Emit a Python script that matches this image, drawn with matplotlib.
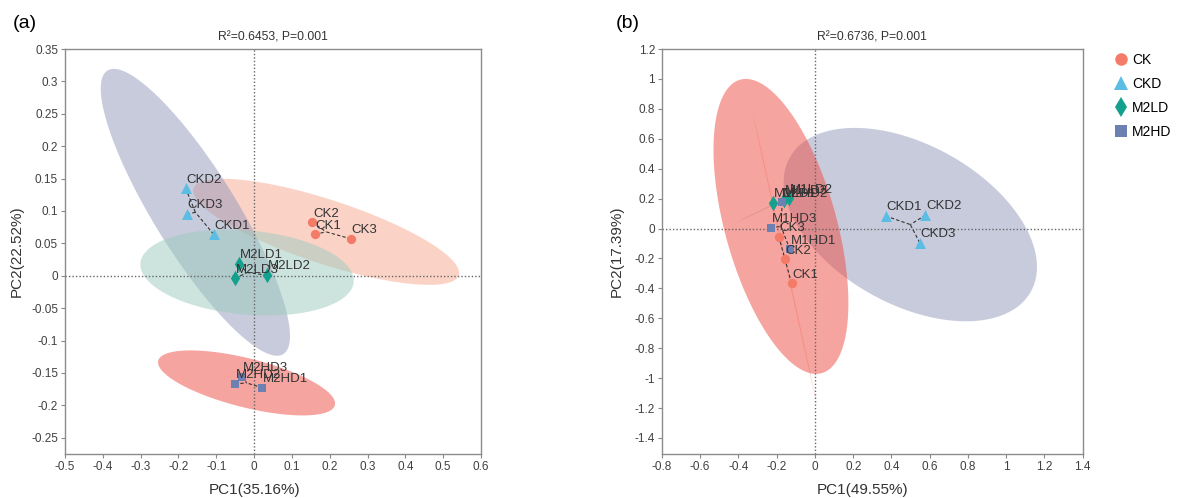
import numpy as np
import matplotlib.pyplot as plt

plt.rcParams['font.family'] = ['Liberation Sans', 'DejaVu Sans']

groups = ['CK', 'CKD', 'M2LD', 'M2HD']
markers = ['o', '^', 'd', 's']
marker_sizes = [45, 62, 62, 40]
marker_colors = ['#F47B67', '#5BBCE4', '#13A08C', '#6D80B2']
ellipse_colors = ['#F9A98E', '#9299BB', '#9CCBBF', '#EF4A40']

# panel (a)
a_names = [['CK1', 'CK2', 'CK3'],
           ['CKD1', 'CKD2', 'CKD3'],
           ['M2LD1', 'M2LD2', 'M2LD3'],
           ['M2HD1', 'M2HD2', 'M2HD3']]
a_x = [[0.161, 0.154, 0.256],
       [-0.107, -0.181, -0.178],
       [-0.040, 0.034, -0.050],
       [0.022, -0.051, -0.031]]
a_y = [[0.064, 0.0825, 0.057],
       [0.064, 0.135, 0.095],
       [0.018, 0.001, -0.004],
       [-0.173, -0.167, -0.156]]
# ellipse semi-axis vectors (data units)
a_major = [(0.3506, -0.0670), (0.2324, -0.2188), (0.2819, -0.0146), (0.2335, -0.0343)]
a_minor = [(-0.0263, -0.0470), (-0.0926, -0.0335), (-0.0098, -0.0647), (-0.0158, -0.0366)]

# panel (b)
b_names = [['CK1', 'CK2', 'CK3'],
           ['CKD1', 'CKD2', 'CKD3'],
           ['M1LD1', 'M1LD2', 'M1LD3'],
           ['M1HD1', 'M1HD2', 'M1HD3']]
b_x = [[-0.122, -0.157, -0.189],
       [0.370, 0.578, 0.548],
       [-0.220, -0.136, -0.160],
       [-0.131, -0.171, -0.231]]
b_y = [[-0.366, -0.206, -0.054],
       [0.084, 0.090, -0.095],
       [0.169, 0.202, 0.190],
       [-0.139, 0.175, 0.006]]
b_major = [(0.167, -0.969), (0.6306, -0.4472), (0.231, 0.140), (0.2130, -0.9808)]
b_minor = [(-0.0030, -0.0008), (-0.2022, -0.4666), (0.0015, -0.0040), (-0.2810, -0.0998)]


def fmt(v, pos):
    return f"{round(v, 3) + 0.0:g}"


def draw_panel(ax, names, xs, ys, major, minor, title, xlabel, ylabel,
               xlim, ylim, xticks, yticks):
    t = np.linspace(0, 2 * np.pi, 300)
    for i in range(4):
        cx, cy = np.mean(xs[i]), np.mean(ys[i])
        ex = cx + np.cos(t) * major[i][0] + np.sin(t) * minor[i][0]
        ey = cy + np.cos(t) * major[i][1] + np.sin(t) * minor[i][1]
        ax.fill(ex, ey, color=ellipse_colors[i], alpha=0.5, lw=0, zorder=1)

    ax.axhline(0, color='#666666', ls=(0, (1, 1.5)), lw=1, zorder=2)
    ax.axvline(0, color='#666666', ls=(0, (1, 1.5)), lw=1, zorder=2)

    for i in range(4):
        cx, cy = np.mean(xs[i]), np.mean(ys[i])
        for x, y in zip(xs[i], ys[i]):
            ax.plot([x, cx], [y, cy], color='#333333', ls=(0, (3, 2)), lw=0.8, zorder=3)
        ax.scatter(xs[i], ys[i], marker=markers[i], s=marker_sizes[i],
                   color=marker_colors[i], lw=0, zorder=4)
        for n, x, y in zip(names[i], xs[i], ys[i]):
            ax.annotate(n, (x, y), xytext=(0.5, 2), textcoords='offset points',
                        ha='left', va='bottom', fontsize=9.5, color='#333333', zorder=5)

    ax.set_xlim(xlim)
    ax.set_ylim(ylim)
    ax.set_xticks(xticks)
    ax.set_yticks(yticks)
    ax.xaxis.set_major_formatter(plt.FuncFormatter(fmt))
    ax.yaxis.set_major_formatter(plt.FuncFormatter(fmt))
    ax.tick_params(length=3, width=0.8, color='#888888', labelsize=8.5,
                   labelcolor='#404040', pad=2)
    for sp in ax.spines.values():
        sp.set_color('#8c8c8c')
        sp.set_linewidth(1)
    ax.set_title(title, fontsize=8.7, color='#333333', pad=6)
    ax.set_xlabel(xlabel, fontsize=11, color='#333333')
    ax.set_ylabel(ylabel, fontsize=11, color='#333333')


fig = plt.figure(figsize=(11.82, 4.98), dpi=100)
ax1 = fig.add_axes([0.055, 0.0884, 0.352, 0.8132])
ax2 = fig.add_axes([0.560, 0.0884, 0.356, 0.8132])

draw_panel(ax1, a_names, a_x, a_y, a_major, a_minor,
           'R²=0.6453, P=0.001', 'PC1(35.16%)', 'PC2(22.52%)',
           (-0.5, 0.6), (-0.275, 0.35),
           np.arange(-0.5, 0.61, 0.1), np.arange(-0.25, 0.351, 0.05))
draw_panel(ax2, b_names, b_x, b_y, b_major, b_minor,
           'R²=0.6736, P=0.001', 'PC1(49.55%)', 'PC2(17.39%)',
           (-0.8, 1.4), (-1.507, 1.2),
           np.arange(-0.8, 1.41, 0.2), np.arange(-1.4, 1.21, 0.2))

ax1.xaxis.set_label_coords(0.455, -0.072)
ax2.xaxis.set_label_coords(0.477, -0.072)
ax1.yaxis.set_label_coords(-0.099, 0.5)
ax2.yaxis.set_label_coords(-0.090, 0.5)

fig.text(13 / 1182, 1 - 24 / 498, '(a)', fontsize=14, va='center', ha='left')
fig.text(616 / 1182, 1 - 24 / 498, '(b)', fontsize=14, va='center', ha='left')

handles = [plt.Line2D([], [], marker=markers[i], color=marker_colors[i], ls='',
                      markersize=[9, 10, 10, 8.5][i], markeredgewidth=0)
           for i in range(4)]
fig.legend(handles, groups, loc='upper left', bbox_to_anchor=(1114 / 1182, 1 - 53 / 498),
           frameon=False, fontsize=10, handlelength=1.0, handletextpad=0.3,
           labelspacing=0.72, borderpad=0, borderaxespad=0)

fig.savefig('out.png', dpi=100)
